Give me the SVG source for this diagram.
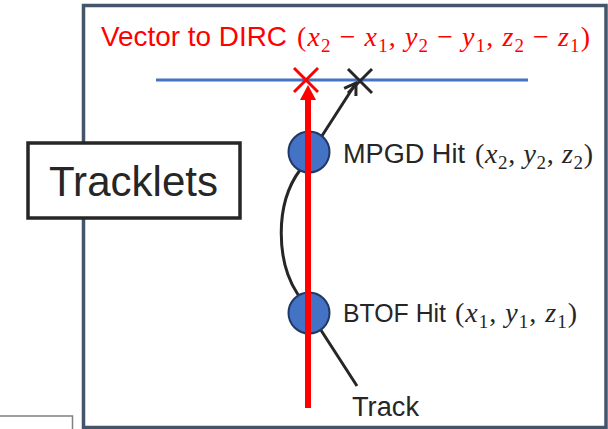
<svg xmlns="http://www.w3.org/2000/svg" width="608" height="429" viewBox="0 0 608 429">
<style>
.sans{font-family:"Liberation Sans",Arial,sans-serif;fill:#262626}
.red{fill:#FF0000}
.math{font-family:"Liberation Serif","Times New Roman",serif}
.it{font-style:italic}
.hit{fill:#4472C4;stroke:#1F3864;stroke-width:2}
.cross-red{stroke:#FF0000;stroke-width:3;fill:none}
.cross-blk{stroke:#262626;stroke-width:3;fill:none}
</style>
<defs>
<marker id="redHead" markerUnits="userSpaceOnUse" viewBox="0 -8 16 16" refX="0" refY="0" markerWidth="16" markerHeight="16" orient="auto">
<path d="M0,-8 L15,0 L0,8 Z" fill="#FF0000"/>
</marker>
<marker id="blkHead" markerUnits="userSpaceOnUse" viewBox="-14 -9 16 18" refX="0" refY="0" markerWidth="16" markerHeight="18" orient="auto">
<path d="M-11,-7 L0,0 L-11,7" fill="none" stroke="#262626" stroke-width="3" stroke-linejoin="miter"/>
</marker>
</defs>
<rect width="608" height="429" fill="#FFFFFF"/>
<g id="corner-box">
<path d="M0,416 H72.5 V429" fill="none" stroke="#808080" stroke-width="1.5"/>
</g>
<g id="frame">
<rect x="83.5" y="5.5" width="522.5" height="422" fill="#FFFFFF" stroke="#44546A" stroke-width="3.5"/>
</g>
<g id="tracklets">
<rect x="28" y="143" width="212" height="75" fill="#FFFFFF" stroke="#262626" stroke-width="3.5"/>
<text class="sans" x="49" y="196" font-size="42" textLength="169" lengthAdjust="spacingAndGlyphs">Tracklets</text>
</g>
<g id="dirc-plane">
<line x1="156" y1="80" x2="528" y2="80" stroke="#4472C4" stroke-width="3"/>
</g>
<g id="title">
<text class="sans red" x="101" y="46" font-size="28" textLength="186" lengthAdjust="spacingAndGlyphs">Vector to DIRC</text>
<text class="math red" x="297" y="46" font-size="28" textLength="293" lengthAdjust="spacing">(<tspan class="it">x</tspan><tspan font-size="19" dy="6">2</tspan><tspan dy="-6"> − </tspan><tspan class="it">x</tspan><tspan font-size="19" dy="6">1</tspan><tspan dy="-6">, </tspan><tspan class="it">y</tspan><tspan font-size="19" dy="6">2</tspan><tspan dy="-6"> − </tspan><tspan class="it">y</tspan><tspan font-size="19" dy="6">1</tspan><tspan dy="-6">, </tspan><tspan class="it">z</tspan><tspan font-size="19" dy="6">2</tspan><tspan dy="-6"> − </tspan><tspan class="it">z</tspan><tspan font-size="19" dy="6">1</tspan><tspan dy="-6">)</tspan></text>
</g>
<g id="connectors">
<path id="track" d="M357,386 L297,293 C277,262 274,205 300,170 L356,83" fill="none" stroke="#262626" stroke-width="3" marker-end="url(#blkHead)"/>
</g>
<g id="mpgd-hit">
<circle class="hit" cx="309" cy="152" r="20.5"/>
<text class="sans" x="343" y="163" font-size="27" textLength="122" lengthAdjust="spacingAndGlyphs">MPGD Hit</text>
<text class="math" x="475" y="163" font-size="28" fill="#262626" textLength="118" lengthAdjust="spacing">(<tspan class="it">x</tspan><tspan font-size="19" dy="6">2</tspan><tspan dy="-6">, </tspan><tspan class="it">y</tspan><tspan font-size="19" dy="6">2</tspan><tspan dy="-6">, </tspan><tspan class="it">z</tspan><tspan font-size="19" dy="6">2</tspan><tspan dy="-6">)</tspan></text>
</g>
<g id="btof-hit">
<circle class="hit" cx="309" cy="313" r="20.5"/>
<text class="sans" x="343" y="322" font-size="26" textLength="103" lengthAdjust="spacingAndGlyphs">BTOF Hit</text>
<text class="math" x="455" y="322" font-size="28" fill="#262626" textLength="122" lengthAdjust="spacing">(<tspan class="it">x</tspan><tspan font-size="19" dy="6">1</tspan><tspan dy="-6">, </tspan><tspan class="it">y</tspan><tspan font-size="19" dy="6">1</tspan><tspan dy="-6">, </tspan><tspan class="it">z</tspan><tspan font-size="19" dy="6">1</tspan><tspan dy="-6">)</tspan></text>
</g>
<g id="vector-arrow">
<line x1="308" y1="408" x2="308" y2="100" stroke="#FF0000" stroke-width="6" marker-end="url(#redHead)"/>
</g>
<g id="cross-red">
<path class="cross-red" d="M294,68 L318,92 M318,68 L294,92"/>
</g>
<g id="cross-black">
<path class="cross-blk" d="M348,69 L372,93 M372,69 L348,93"/>
</g>
<g id="track-label">
<text class="sans" x="352" y="416" font-size="27" textLength="67" lengthAdjust="spacingAndGlyphs">Track</text>
</g>
</svg>
